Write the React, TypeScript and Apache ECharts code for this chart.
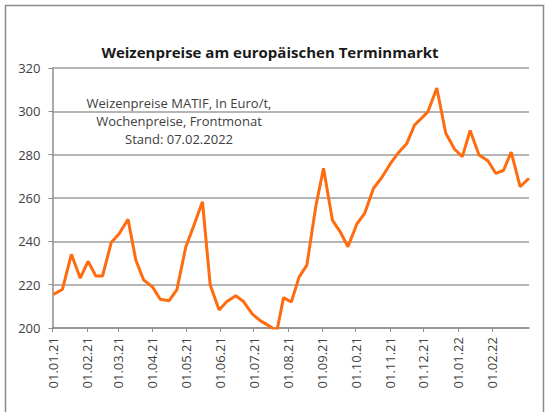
import React, { useEffect, useRef } from "react";
import * as echarts from "echarts";

const dates: string[] = [
  "2021-01-02", "2021-01-10", "2021-01-18", "2021-01-26", "2021-02-02", "2021-02-09",
  "2021-02-15", "2021-02-23", "2021-03-02", "2021-03-10", "2021-03-17", "2021-03-24",
  "2021-04-01", "2021-04-08", "2021-04-16", "2021-04-23", "2021-05-01", "2021-05-08",
  "2021-05-16", "2021-05-23", "2021-05-31", "2021-06-07", "2021-06-15", "2021-06-22",
  "2021-06-30", "2021-07-07", "2021-07-15", "2021-07-22", "2021-07-28", "2021-08-04",
  "2021-08-11", "2021-08-18", "2021-08-26", "2021-09-02", "2021-09-10", "2021-09-17",
  "2021-09-24", "2021-10-02", "2021-10-09", "2021-10-17", "2021-10-24", "2021-11-01",
  "2021-11-08", "2021-11-16", "2021-11-23", "2021-11-30", "2021-12-05", "2021-12-13",
  "2021-12-21", "2021-12-29", "2022-01-05", "2022-01-12", "2022-01-20", "2022-01-28",
  "2022-02-04", "2022-02-11", "2022-02-18", "2022-02-26", "2022-03-06",
];

const prices: number[] = [
  215.5, 217.9, 234, 223, 230.8, 224,
  224, 239.6, 243.5, 250.2, 231.4, 222.2,
  219, 213.3, 212.6, 217.7, 237.4, 247,
  258.3, 219.8, 208.3, 212.2, 214.9, 212.2,
  206.4, 203.4, 201, 198.5, 214, 212,
  223.5, 229, 256, 273.7, 249.8, 244.4,
  237.5, 248, 252.9, 264.5, 269.1, 275.7,
  280.6, 285.2, 293.7, 297.2, 299.8, 310.8,
  290, 282.5, 279.1, 291.2, 279.8, 277.2,
  271.4, 272.7, 281.2, 265.2, 269.1,
];

const monthTicks: string[] = [
  "2021-01-01", "2021-02-01", "2021-03-01", "2021-04-01", "2021-05-01", "2021-06-01",
  "2021-07-01", "2021-08-01", "2021-09-01", "2021-10-01", "2021-11-01", "2021-12-01",
  "2022-01-01", "2022-02-01",
];

const axisStart = "2021-01-01";
const axisEnd = "2022-03-06";

const titleText = "Weizenpreise am europäischen Terminmarkt";
const noteLines: string[] = [
  "Weizenpreise MATIF, In Euro/t,",
  "Wochenpreise, Frontmonat",
  "Stand: 07.02.2022",
];

function toTime(s: string): number {
  const [y, m, d] = s.split("-").map(Number);
  return Date.UTC(y, m - 1, d);
}

function pad(n: number): string {
  return n < 10 ? "0" + n : String(n);
}

export default function App() {
  const ref = useRef<HTMLDivElement>(null);

  useEffect(() => {
    if (!ref.current) return;
    const chart = echarts.init(ref.current, null, { renderer: "svg" });
    const font = "'Open Sans', 'DejaVu Sans', sans-serif";
    const tickVals = monthTicks.map(toTime);
    const option: any = {
      animation: false,
      backgroundColor: "#ffffff",
      grid: { left: 52.5, right: 19, top: 68, bottom: 84, containLabel: false },
      xAxis: {
        type: "value",
        min: toTime(axisStart),
        max: toTime(axisEnd),
        axisLine: { show: true, lineStyle: { color: "#8c8c8c", width: 1.5 } },
        axisTick: {
          show: true,
          length: 4,
          customValues: tickVals,
          lineStyle: { color: "#8c8c8c", width: 1 },
        },
        splitLine: { show: false },
        axisLabel: {
          customValues: tickVals,
          rotate: 90,
          margin: 9,
          color: "#404040",
          fontFamily: font,
          fontSize: 13,
          showMinLabel: true,
          showMaxLabel: true,
          hideOverlap: false,
          formatter: (v: number) => {
            const d = new Date(v);
            return pad(d.getUTCDate()) + "." + pad(d.getUTCMonth() + 1) + "." + pad(d.getUTCFullYear() % 100);
          },
        },
      },
      yAxis: {
        type: "value",
        min: 200,
        max: 320,
        interval: 20,
        axisLine: { show: true, lineStyle: { color: "#8c8c8c", width: 1.5 } },
        axisTick: { show: true, length: 4, lineStyle: { color: "#8c8c8c" } },
        splitLine: { show: true, lineStyle: { color: "#9c9c9c", width: 1.5 } },
        axisLabel: {
          margin: 12,
          color: "#404040",
          fontFamily: font,
          fontSize: 13,
        },
      },
      graphic: [
        {
          type: "rect",
          shape: { x: 5.5, y: 5.5, width: 538, height: 420 },
          style: { fill: "none", stroke: "#8a8a8a", lineWidth: 1.5 },
          silent: true,
        },
        {
          type: "text",
          x: 270,
          y: 52,
          style: {
            text: titleText,
            fill: "#1a1a1a",
            font: "bold 15px " + font,
            textAlign: "center",
            textVerticalAlign: "middle",
          },
        },
        ...noteLines.map((t, i) => ({
          type: "text",
          x: 179,
          y: 103 + i * 18,
          style: {
            text: t,
            fill: "#404040",
            font: "13px " + font,
            textAlign: "center",
            textVerticalAlign: "middle",
          },
        })),
      ],
      series: [
        {
          type: "line",
          data: dates.map((d, i) => [toTime(d), prices[i]]),
          symbol: "none",
          smooth: false,
          clip: true,
          lineStyle: { color: "#FF6C0F", width: 3 },
        },
      ],
    };
    chart.setOption(option);
    return () => chart.dispose();
  }, []);

  return (
    <div style={{ position: "fixed", left: 0, top: 0, width: 548, height: 412, background: "#fff" }}>
      <div ref={ref} style={{ width: 548, height: 412 }} />
    </div>
  );
}
